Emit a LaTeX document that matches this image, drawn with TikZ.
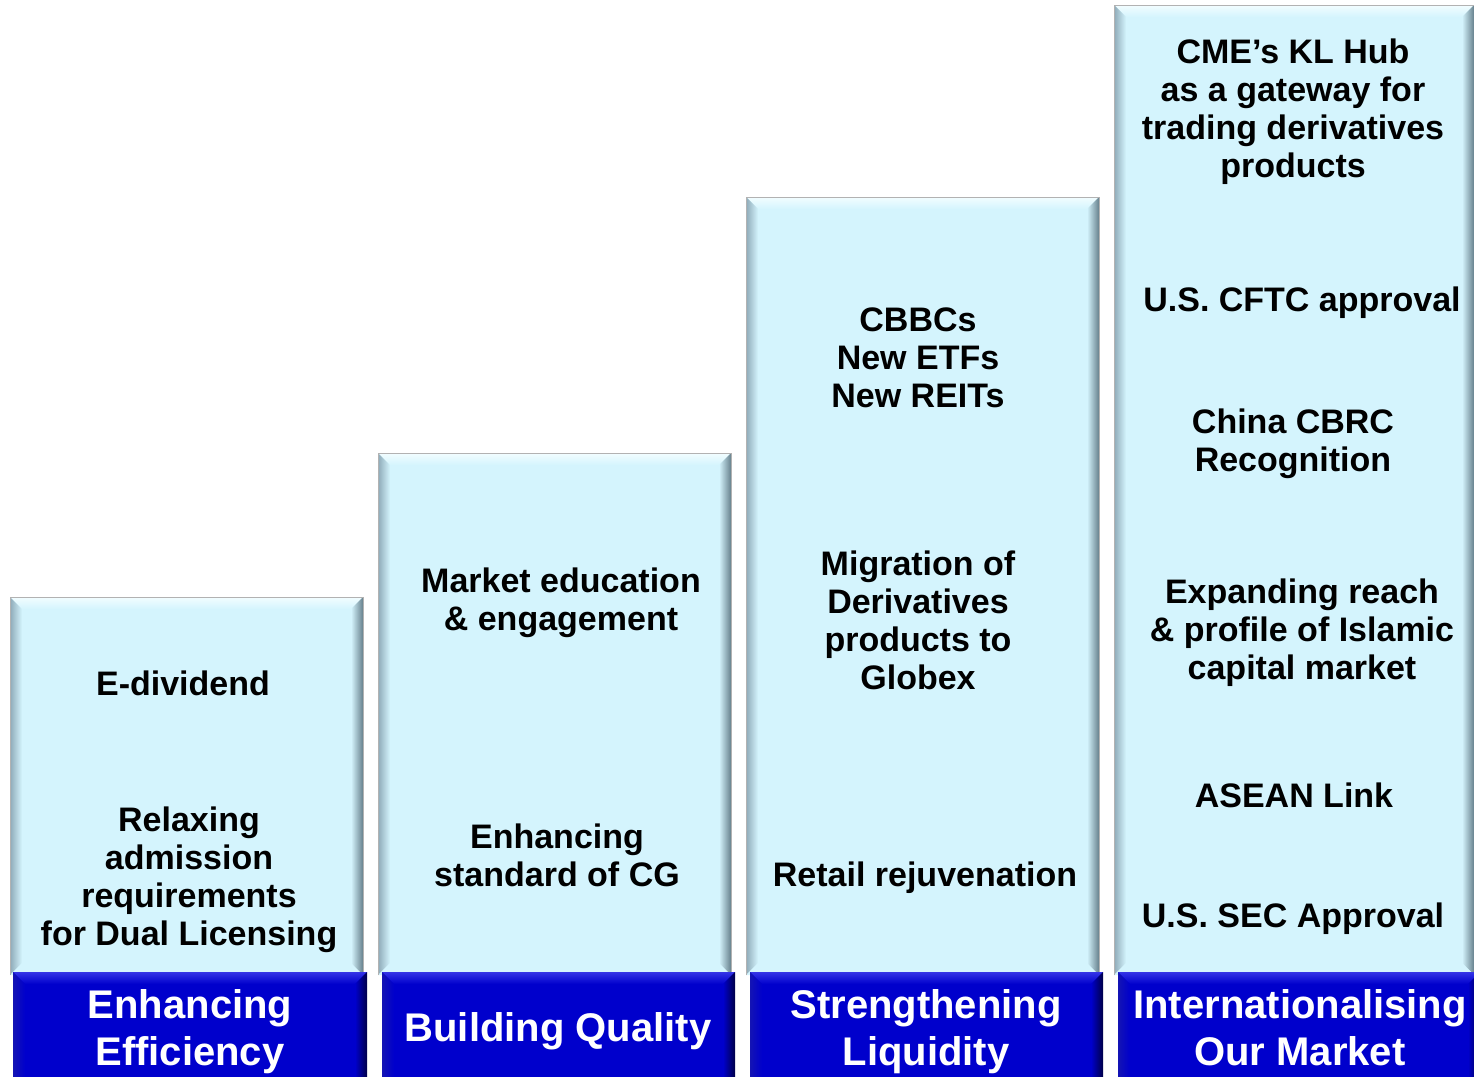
\documentclass[tikz,border=0pt]{standalone}
\usepackage{fontspec}
\setmainfont{Liberation Sans}
\usepackage{tikz}
\usetikzlibrary{calc}
\definecolor{pillar}{HTML}{D4F4FD}
\definecolor{pillartop}{HTML}{F2FDFF}
\definecolor{pillarleft}{HTML}{8EAAB8}
\definecolor{pillarright}{HTML}{66808C}
\definecolor{bandblue}{HTML}{0000CC}
\definecolor{bandtop}{HTML}{3434E6}
\definecolor{bandleft}{HTML}{1414B4}
\definecolor{bandright}{HTML}{000048}
\definecolor{banddark}{HTML}{00005A}
% #1-#4 corners, #5 face, #6 top, #7 left, #8 right, #9 bottom
\newcommand\bevelbox[9]{
	\fill[#5] (#1,#2) rectangle (#3,#4);
	\shade[top color=#6,bottom color=#5] (#1,#2) -- (#3,#2) -- (#3-\bev,#2+\bev) -- (#1+\bev,#2+\bev) -- cycle;
	\shade[left color=#7,right color=#5] (#1,#2) -- (#1+\bev,#2+\bev) -- (#1+\bev,#4-\bev) -- (#1,#4) -- cycle;
	\shade[left color=#5,right color=#8] (#3,#2) -- (#3,#4) -- (#3-\bev,#4-\bev) -- (#3-\bev,#2+\bev) -- cycle;
	\shade[top color=#5,bottom color=#9] (#1,#4) -- (#3,#4) -- (#3-\bev,#4-\bev) -- (#1+\bev,#4-\bev) -- cycle;
}
\tikzset{
	item/.style={font=\bfseries\fontsize{17}{19}\selectfont, align=center, inner sep=0pt},
	band/.style={font=\bfseries\fontsize{20}{23.5}\selectfont, text=white, align=center, inner sep=0pt}
}

\begin{document}
\begin{tikzpicture}[x=0.5pt,y=-0.5pt]
	%%%%% START %%%%%
	\def\bev{12}
	\def\ybase{975}
	\def\yband{972}
	\useasboundingbox (0,0) rectangle (1474,1077);
	
	% pillars
	\bevelbox{10}{597}{363}{\ybase}{pillar}{pillartop}{pillarleft}{pillarright}{pillar}
	\bevelbox{378}{453}{731}{\ybase}{pillar}{pillartop}{pillarleft}{pillarright}{pillar}
	\bevelbox{746}{197}{1099}{\ybase}{pillar}{pillartop}{pillarleft}{pillarright}{pillar}
	\bevelbox{1114}{5}{1474}{\ybase}{pillar}{pillartop}{pillarleft}{pillarright}{pillar}
	\draw[black!30, line width=0.4pt] (10,\ybase) |- (363,597) -- (363,\ybase);
	\draw[black!30, line width=0.4pt] (378,\ybase) |- (731,453) -- (731,\ybase);
	\draw[black!30, line width=0.4pt] (746,\ybase) |- (1099,197) -- (1099,\ybase);
	\draw[black!30, line width=0.4pt] (1114,\ybase) |- (1474,5);
	
	% bands
	\bevelbox{13}{\yband}{367}{1090}{bandblue}{bandtop}{bandleft}{bandright}{banddark}
	\bevelbox{382}{\yband}{735}{1090}{bandblue}{bandtop}{bandleft}{bandright}{banddark}
	\bevelbox{750}{\yband}{1103}{1090}{bandblue}{bandtop}{bandleft}{bandright}{banddark}
	\bevelbox{1118}{\yband}{1480}{1090}{bandblue}{bandtop}{bandleft}{bandright}{banddark}
	
	% pillar one
	\node[item] (ediv) at (183,683) {E-dividend};
	\node[item] (relax) at (189,880) {Relaxing\\admission\\requirements\\for Dual Licensing};
	
	% pillar two
	\node[item] (educ) at (561,603) {Market education\\\& engagement};
	\node[item] (cg) at (557,855) {Enhancing\\standard of CG};
	
	% pillar three
	\node[item] (cbbc) at (918,358) {CBBCs\\New ETFs\\New REITs};
	\node[item] (migr) at (918,620) {Migration of\\Derivatives\\products to\\Globex};
	\node[item] (retail) at (925,878) {Retail rejuvenation};
	
	% pillar four
	\node[item] (cme) at (1293,112) {CME’s KL Hub\\as a gateway for\\trading derivatives\\products};
	\node[item] (cftc) at (1302,303) {U.S. CFTC approval};
	\node[item] (cbrc) at (1293,444) {China CBRC\\Recognition};
	\node[item] (islam) at (1302,633) {Expanding reach\\\& profile of Islamic\\capital market};
	\node[item] (asean) at (1294,795) {ASEAN Link};
	\node[item] (sec) at (1293,919) {U.S. SEC Approval};
	
	% band labels
	\node[band] (effic) at (190,1032) {Enhancing\\Efficiency};
	\node[band] (quality) at (558,1031) {Building Quality};
	\node[band] (liquid) at (926,1032) {Strengthening\\Liquidity};
	\node[band] (intl) at (1300,1028) {Internationalising\\Our Market};
	%%%%% END %%%%%
\end{tikzpicture}
\end{document}
